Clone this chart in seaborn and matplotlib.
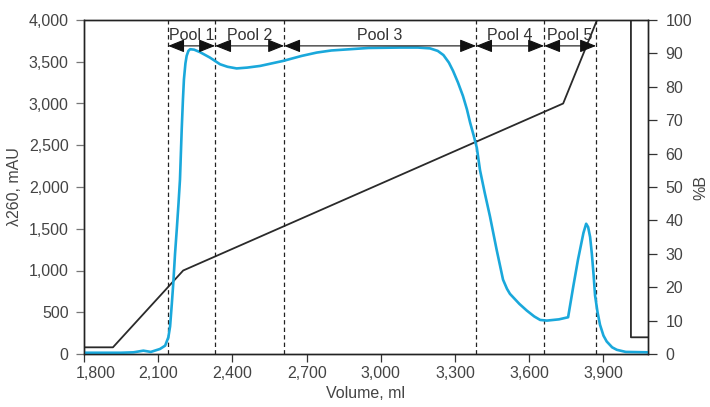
import matplotlib
matplotlib.use("Agg")
import matplotlib.pyplot as plt
import matplotlib.transforms as mtransforms
import seaborn as sns

# ---- data ----
uv_volume = [1800, 1950, 2000, 2040, 2070, 2107, 2128, 2141, 2148, 2155, 2161, 2168,
             2175, 2182, 2188, 2195, 2200, 2204, 2210, 2215, 2222, 2229, 2245, 2269,
             2309, 2350, 2380, 2417, 2460, 2512, 2605, 2680, 2741, 2800, 2875, 2950,
             3078, 3150, 3199, 3230, 3253, 3275, 3292, 3312, 3332, 3348, 3361, 3375,
             3388, 3401, 3420, 3441, 3468, 3494, 3510, 3522, 3560, 3590, 3620, 3644,
             3671, 3720, 3757, 3778, 3797, 3819, 3830, 3838, 3846, 3853, 3860, 3866,
             3876, 3886, 3900, 3913, 3935, 3954, 3990, 4080]
uv_mau = [15, 15, 20, 40, 25, 60, 100, 200, 330, 600, 850, 1200,
          1490, 1800, 2090, 2690, 3050, 3290, 3480, 3570, 3630, 3650, 3645, 3615,
          3550, 3470, 3440, 3420, 3430, 3450, 3510, 3570, 3610, 3635, 3650, 3665,
          3670, 3670, 3660, 3630, 3580, 3490, 3390, 3250, 3090, 2930, 2770, 2620,
          2470, 2200, 1930, 1650, 1250, 890, 780, 720, 600, 520, 450, 408,
          400, 415, 440, 810, 1130, 1450, 1560, 1520, 1400, 1200, 950, 700,
          500, 350, 220, 150, 80, 50, 25, 20]

gradient_volume = [1800, 1917, 2201, 3737, 3874, 4011, 4011, 4080]
gradient_pct_b = [2, 2, 25, 75, 100, 100, 5, 5]

pool_edges = [2140, 2330, 2609, 3385, 3660, 3870]
pool_labels = ["Pool 1", "Pool 2", "Pool 3", "Pool 4", "Pool 5"]

x_ticks = [1800, 2100, 2400, 2700, 3000, 3300, 3600, 3900]
y_ticks = [0, 500, 1000, 1500, 2000, 2500, 3000, 3500, 4000]
y2_ticks = [0, 10, 20, 30, 40, 50, 60, 70, 80, 90, 100]

# ---- style ----
sns.set_theme(style="ticks")
plt.rcParams["font.family"] = ["Liberation Sans", "DejaVu Sans"]
text_color = "#444444"
fs = 11.5

fig = plt.figure(figsize=(7.10, 4.07), dpi=100)
ax = fig.add_axes([84 / 710, 53 / 407, (648 - 84) / 710, (354 - 20) / 407])
ax2 = ax.twinx()
ax.set_zorder(ax2.get_zorder() + 1)
ax.patch.set_visible(False)

sns.lineplot(x=gradient_volume, y=gradient_pct_b, ax=ax2, estimator=None, sort=False,
             color="#2a2a2a", linewidth=1.3)
sns.lineplot(x=uv_volume, y=uv_mau, ax=ax, estimator=None, sort=False,
             color="#1aa8db", linewidth=1.9)

ax.set_xlim(1800, 4080)
ax.set_ylim(0, 4000)
ax2.set_ylim(0, 100)

# pool boundaries
for e in pool_edges:
    ax.axvline(e, color="#222222", linewidth=0.9, linestyle=(0, (3.5, 2.5)), zorder=1)

arrow_y = 3690
label_y = 3760
for i, lab in enumerate(pool_labels):
    a, b = pool_edges[i], pool_edges[i + 1]
    ax.annotate("", xy=(b, arrow_y), xytext=(a, arrow_y),
                arrowprops=dict(arrowstyle="<|-|>,head_length=0.4,head_width=0.16",
                                color="#111111", lw=0.8, mutation_scale=25,
                                shrinkA=0, shrinkB=0))
    ax.text((a + b) / 2, label_y, lab, ha="center", va="baseline",
            fontsize=fs, color="#333333")

# ticks
ax.set_xticks(x_ticks)
ax.set_xticklabels([f"{v:,}" for v in x_ticks])
ax.set_yticks(y_ticks)
ax.set_yticklabels([f"{v:,}" for v in y_ticks])
ax2.set_yticks(y2_ticks)
ax2.set_yticklabels([str(v) for v in y2_ticks])

ax.tick_params(axis="x", direction="out", length=6, width=0.9, color="#333333",
               labelsize=fs, labelcolor=text_color, pad=3)
ax.tick_params(axis="y", direction="out", length=6, width=0.9, color="#777777",
               labelsize=fs, labelcolor=text_color, pad=5)
ax2.tick_params(axis="y", direction="out", length=6.5, width=0.9, color="#333333",
                labelsize=fs, labelcolor=text_color, pad=6)

# shift first x label slightly to the right, as in the reference
lbl = ax.get_xticklabels()[0]
lbl.set_transform(lbl.get_transform() + mtransforms.ScaledTranslation(12 / 100, 0, fig.dpi_scale_trans))

for a_ in (ax, ax2):
    for s in a_.spines.values():
        s.set_visible(True)
        s.set_color("#222222")
        s.set_linewidth(1.0)

ax.set_xlabel("Volume, ml", fontsize=fs, color=text_color, labelpad=3)
ax.set_ylabel("")
ax2.set_ylabel("")
fig.text(15 / 710, 1 - 187 / 407, "λ260, mAU", rotation=90, ha="center", va="center",
         fontsize=fs, color=text_color)
fig.text(701 / 710, 1 - 187 / 407, "%B", rotation=90, ha="center", va="center",
         fontsize=fs, color=text_color)

fig.savefig("out.png", dpi=100)
